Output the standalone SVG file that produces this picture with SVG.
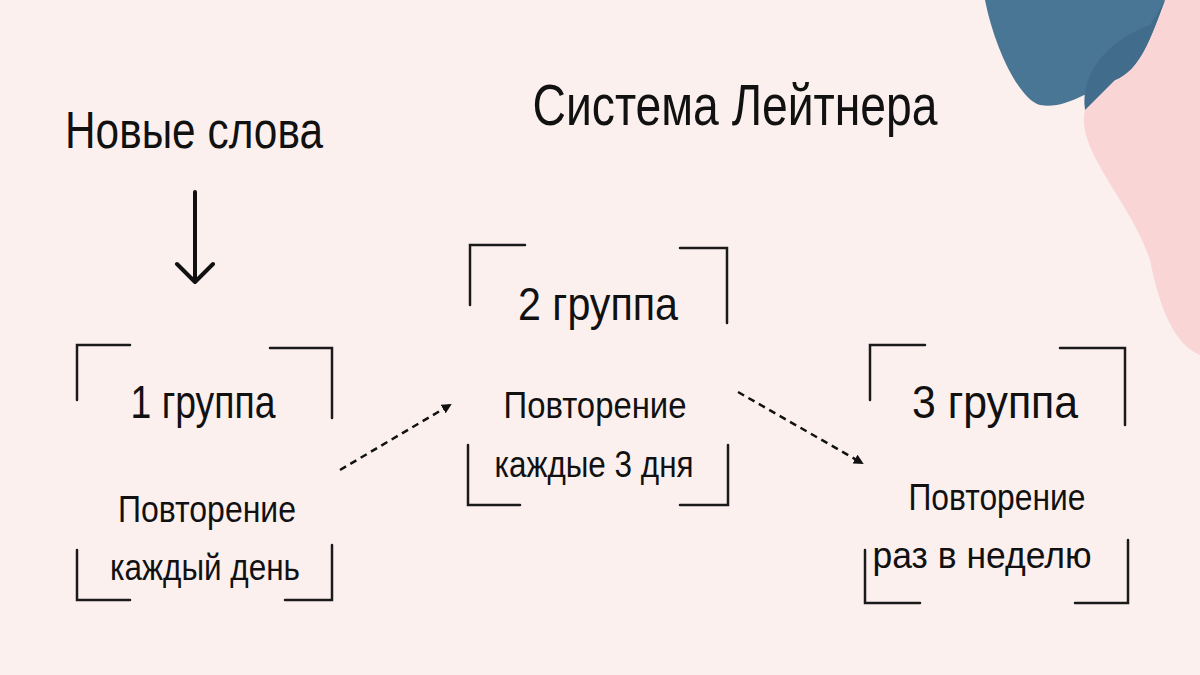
<svg xmlns="http://www.w3.org/2000/svg" width="1200" height="675" viewBox="0 0 1200 675">
<style>
.t{font-family:"Liberation Sans","DejaVu Sans",sans-serif;fill:#111;text-anchor:middle}
.b{fill:none;stroke:#1a1a1a;stroke-width:2.5;stroke-linecap:round}
.d{fill:none;stroke:#111;stroke-width:2.5;stroke-dasharray:7 5}
</style>
<defs>
<marker id="ah" markerWidth="10" markerHeight="10" refX="8" refY="5" orient="auto" markerUnits="userSpaceOnUse"><path d="M0,0 L10,5 L0,10 Z" fill="#111"/></marker>
</defs>
<rect width="1200" height="675" fill="#fcf0ef"/>
<path d="M1165,0 C1150,40 1100,80 1085,110 C1075,150 1130,200 1150,260 C1160,310 1175,345 1200,355 L1200,0 Z" fill="#f9d5d5"/>
<path d="M985,0 C995,50 1020,100 1040,105 C1065,110 1090,90 1115,80 C1140,70 1150,40 1165,0 Z" fill="#4a7695"/>
<path d="M1085,110 C1080,70 1110,40 1150,25 L1165,0 C1150,40 1140,70 1115,80 Z" fill="#426c8c"/>
<text class="t" x="735" y="125" font-size="58" textLength="405" lengthAdjust="spacingAndGlyphs">Система Лейтнера</text>
<g id="new"><text class="t" x="194" y="148" font-size="52" textLength="258" lengthAdjust="spacingAndGlyphs">Новые слова</text></g>
<g id="g1">
<path class="b" d="M77,400 V345 H130 M270,348 H332 V418 M77,550 V600 H130 M285,600 H332 V545"/>
<text class="t" x="203" y="418" font-size="46" textLength="145" lengthAdjust="spacingAndGlyphs">1 группа</text>
<text class="t" x="207" y="522" font-size="36" textLength="178" lengthAdjust="spacingAndGlyphs">Повторение</text>
<text class="t" x="205" y="580" font-size="36" textLength="190" lengthAdjust="spacingAndGlyphs">каждый день</text>
</g>
<g id="g2">
<path class="b" d="M470,305 V245 H525 M680,248 H727 V323 M468,445 V505 H520 M680,505 H728 V445"/>
<text class="t" x="598" y="320" font-size="46" textLength="160" lengthAdjust="spacingAndGlyphs">2 группа</text>
<text class="t" x="595" y="418" font-size="36" textLength="183" lengthAdjust="spacingAndGlyphs">Повторение</text>
<text class="t" x="594" y="477" font-size="36" textLength="199" lengthAdjust="spacingAndGlyphs">каждые 3 дня</text>
</g>
<g id="g3">
<path class="b" d="M870,400 V345 H925 M1060,348 H1125 V425 M865,550 V603 H920 M1075,603 H1128 V540"/>
<text class="t" x="995" y="418" font-size="46" textLength="166" lengthAdjust="spacingAndGlyphs">3 группа</text>
<text class="t" x="997" y="510" font-size="36" textLength="177" lengthAdjust="spacingAndGlyphs">Повторение</text>
<text class="t" x="982" y="568" font-size="36" textLength="219" lengthAdjust="spacingAndGlyphs">раз в неделю</text>
</g>
<g id="connectors">
<path d="M195,192 V282 M177,264 L195,282 L213,264" fill="none" stroke="#111" stroke-width="4" stroke-linecap="round" stroke-linejoin="round"/>
<path class="d" d="M340,470 L450,405" marker-end="url(#ah)"/>
<path class="d" d="M738,392 L862,463" marker-end="url(#ah)"/>
</g>
</svg>
